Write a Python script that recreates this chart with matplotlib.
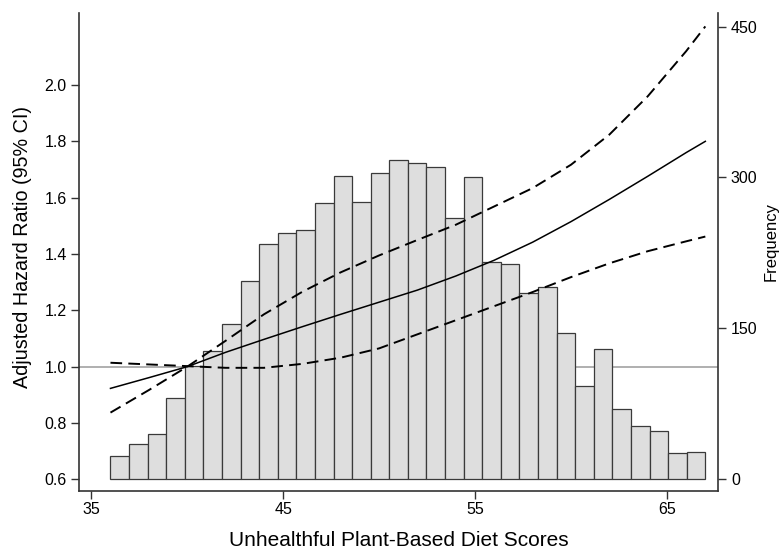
import numpy as np
import matplotlib.pyplot as plt
from matplotlib.transforms import blended_transform_factory

plt.rcParams['font.family'] = ['Liberation Sans', 'DejaVu Sans']

# histogram of diet scores: 32 bins from 36 to 67
bin_start = 36.0
bin_width = 31.0 / 32
freq = [23, 35, 45, 81, 112, 127, 154, 197, 234, 245, 248, 275, 301, 276, 304, 317,
        314, 310, 260, 300, 216, 214, 185, 191, 145, 93, 129, 70, 53, 48, 26, 27]

# spline estimates of hazard ratio with 95% CI
score = [36, 38, 40, 42, 44, 46, 48, 50, 52, 54, 56, 58, 60, 62, 64, 66, 67]
hr = [0.923, 0.961, 1.0, 1.051, 1.097, 1.142, 1.186, 1.229, 1.272, 1.322, 1.378,
      1.442, 1.515, 1.594, 1.676, 1.76, 1.80]
hr_hi = [0.837, 0.917, 1.0, 1.092, 1.186, 1.266, 1.335, 1.395, 1.45, 1.504, 1.569,
         1.634, 1.717, 1.824, 1.96, 2.12, 2.208]
hr_lo = [1.014, 1.008, 1.002, 0.996, 0.996, 1.01, 1.032, 1.065, 1.115, 1.165, 1.215,
         1.265, 1.318, 1.367, 1.41, 1.445, 1.462]

spine_col = '#333333'

fig = plt.figure(figsize=(7.83, 5.52), dpi=100)
ax = fig.add_axes([79/783, 1-491/552, (718-79)/783, (491-13)/552])
ax2 = ax.twinx()
ax.set_zorder(ax2.get_zorder() + 1)
ax.patch.set_visible(False)

# bars on the frequency axis
edges = bin_start + bin_width * np.arange(len(freq))
ax2.bar(edges, freq, width=bin_width, align='edge', color='#dedede',
        edgecolor='#3a3a3a', linewidth=0.9, zorder=2)

# reference line at HR = 1, behind the bars
tr = blended_transform_factory(ax2.transAxes, ax.transData)
ax2.plot([0, 1], [1, 1], transform=tr, color='#9a9a9a', lw=1.1, zorder=1)

ax.plot(score, hr, color='black', lw=1.1)
ax.plot(score, hr_hi, color='black', lw=1.4, linestyle=(0, (6, 3.2)))
ax.plot(score, hr_lo, color='black', lw=1.4, linestyle=(0, (6, 3.2)))

ax.set_xlim(34.36, 67.66)
ax.set_ylim(0.5587, 2.2556)
ax2.set_ylim(-11.9, 463.6)

ax.set_xticks([35, 45, 55, 65])
ax.set_yticks([0.6, 0.8, 1.0, 1.2, 1.4, 1.6, 1.8, 2.0])
ax.set_yticklabels(['0.6', '0.8', '1.0', '1.2', '1.4', '1.6', '1.8', '2.0'])
ax2.set_yticks([0, 150, 300, 450])

for a in (ax, ax2):
    a.spines['top'].set_visible(False)
    for s in a.spines.values():
        s.set_color(spine_col)
        s.set_linewidth(1.2)
    a.tick_params(length=5.8, width=1.0, color=spine_col, labelsize=11.5, pad=3)
ax.tick_params(axis='x', pad=2)
ax2.tick_params(pad=3.5)
ax.spines['right'].set_visible(False)
ax2.spines['left'].set_visible(False)
ax2.spines['bottom'].set_visible(False)

ax.set_xlabel('Unhealthful Plant-Based Diet Scores', fontsize=15)
ax.xaxis.set_label_coords(0.5, -0.084)
ax.set_ylabel('Adjusted Hazard Ratio (95% CI)', fontsize=14.2)
ax.yaxis.set_label_coords(-0.073, 0.51)
ax2.set_ylabel('Frequency', fontsize=12)
ax2.yaxis.set_label_coords(1.072, 0.521)

fig.savefig('out.png', dpi=100)
